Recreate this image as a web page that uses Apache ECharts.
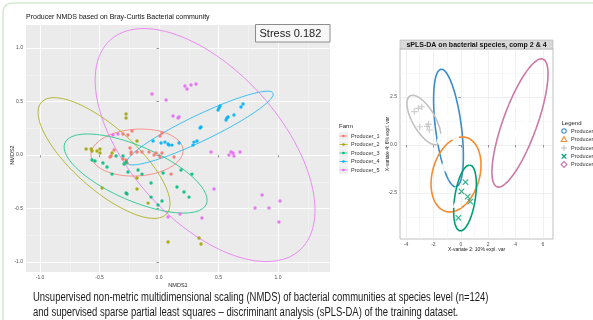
<!DOCTYPE html>
<html><head><meta charset="utf-8">
<script src="https://cdn.jsdelivr.net/npm/echarts@6/dist/echarts.min.js"></script>
<style>html,body{margin:0;padding:0;background:#fff}#c{width:593px;height:320px}</style>
</head><body><div id="c"></div>
<script>
// ---- NMDS (Bray-Curtis) site scores, [NMDS1, NMDS2] per producer ----
const producerNames = ['Producer_1', 'Producer_2', 'Producer_3', 'Producer_4', 'Producer_5'];
const nmdsProducer1 = [[-0.303,0.196],[-0.261,0.187],[-0.227,0.224],[0.008,0.178],[0.025,0.206],[-0.412,-0.019],[-0.403,-0.009],[-0.378,0.047],[-0.303,-0.037],[-0.277,-0.047],[-0.269,-0.075],[-0.235,0.028],[-0.235,0.009],[-0.185,0.028],[-0.143,0.028],[-0.084,0.028],[-0.042,0.000],[-0.025,0.019],[0.008,-0.019],[0.025,0.019],[0.126,-0.019],[0.101,-0.178],[-0.244,0.065]];
const nmdsProducer2 = [[-0.277,0.383],[-0.277,0.346],[-0.613,0.056],[-0.571,0.056],[-0.563,0.037],[-0.521,0.037],[-0.496,0.056],[-0.496,0.019],[-0.395,0.019],[-0.185,0.131],[-0.479,-0.308],[-0.185,-0.215],[-0.185,-0.318],[-0.092,-0.449],[0.076,-0.813],[0.336,-0.776],[0.353,-0.832]];
const nmdsProducer3 = [[-0.563,-0.047],[-0.538,-0.056],[-0.471,-0.075],[-0.437,-0.112],[-0.395,-0.178],[-0.361,-0.009],[-0.303,-0.009],[-0.294,-0.084],[-0.277,-0.065],[-0.261,-0.159],[-0.277,-0.355],[-0.269,-0.364],[-0.176,-0.140],[-0.143,-0.178],[-0.067,-0.262],[-0.067,-0.393],[-0.008,-0.467],[0.025,-0.430],[0.034,-0.168],[0.151,-0.299],[0.185,-0.140],[0.210,-0.346],[0.252,-0.393],[0.277,-0.178]];
const nmdsProducer4 = [[-0.050,0.131],[0.017,0.112],[0.050,0.121],[0.076,0.103],[0.084,0.093],[0.109,0.093],[0.168,0.112],[0.286,0.093],[0.294,0.121],[0.319,0.131],[0.345,0.252],[0.353,0.262],[0.496,0.421],[0.504,0.439],[0.513,0.458],[0.563,0.327],[0.580,0.355],[0.571,0.346],[0.630,0.374],[0.689,0.449],[0.706,0.477]];
const nmdsProducer5 = [[-0.059,0.570],[0.059,0.514],[0.218,0.645],[0.235,0.617],[0.269,0.654],[0.311,0.664],[0.118,0.364],[0.160,0.346],[0.168,0.355],[-0.387,0.187],[-0.345,0.196],[0.437,0.028],[0.588,0.000],[0.605,0.028],[0.622,0.019],[0.630,-0.009],[0.681,0.028],[0.462,-0.318],[0.361,-0.589],[0.076,-0.579],[0.176,-0.551],[0.866,-0.374],[0.807,-0.495],[0.924,-0.495],[1.017,-0.430],[1.008,-0.626]];
// 95% ellipses: [centreX, centreY, axis1X, axis1Y, axis2X, axis2Y]
const nmdsEllipses = [
  [-0.185, 0.023, 0.387, 0.019, 0, 0.219],
  [-0.462, -0.028, 0.527, -0.521, -0.173, -0.217],
  [-0.197, -0.173, 0.601, -0.248, 0, 0.274],
  [0.345, 0.252, 0.614, 0.327, 0.047, -0.109],
  [0.387, 0.093, 0.924, -0.607, 0, 0.904]
];
const nmdsMajorTicks = [-1.0, -0.5, 0.0, 0.5, 1.0];
const nmdsMinorX = [-0.75, -0.25, 0.25, 0.75, 1.25];
const nmdsMinorY = [-0.75, -0.25, 0.25, 0.75];
const stressLabel = 'Stress 0.182';

// ---- sPLS-DA scores, [X-variate 2, X-variate 4] per producer ----
const splsProducer1 = [[-1.28,2.40],[-1.18,2.38],[-1.06,1.42],[-1.32,0.43],[-1.48,0.21],[-0.40,0.40],[-0.47,-1.04]];
const splsProducer2 = [[1.00,-0.78],[-1.28,-1.16],[-0.47,-1.04],[-0.55,-1.58],[-0.30,-3.06]];
const splsProducer3 = [[-3.39,1.74],[-3.10,1.91],[-2.85,1.99],[-3.00,0.95],[-2.45,0.97],[-2.30,0.78],[-2.36,1.09]];
const splsProducer4 = [[0.34,-1.94],[0.05,-2.42],[0.50,-2.69],[0.69,-2.95],[-0.18,-3.80]];
const splsProducer5 = [[5.31,3.36],[3.88,2.08],[4.81,1.07],[3.94,0.57],[4.55,0.59],[2.99,-0.60]];
const splsEllipses = [
  [-0.90, 0.885, 0.547, -3.07, 0.94, 0.083],
  [-0.35, -1.536, 1.825, 0.495, 0, -1.89],
  [-2.69, 1.30, 1.02, -1.26, -0.715, -0.294],
  [0.307, -2.76, 0.365, 1.72, 0.745, -0.078],
  [4.32, 1.146, 1.68, 3.33, 1.17, -0.30]
];
const splsMajorX = [-4, -2, 0, 2, 4, 6];
const splsMinorX = [-3, -1, 1, 3, 5];
const splsMajorY = [-2.5, 0.0, 2.5];
const splsMinorY = [-3.75, -1.25, 1.25, 3.75];

const captionLines = [
  'Unsupervised non-metric multidimensional scaling (NMDS) of bacterial communities at species level (n=124)',
  'and supervised sparse partial least squares \u2013 discriminant analysis (sPLS-DA) of the training dataset.'
];

// ---- styling ----
const ggColors = ['#F8766D', '#A3A500', '#00BF7D', '#00B0F6', '#E76BF3'];
const mixoColors = ['#388ECC', '#F68B33', '#C2C2C2', '#009E73', '#CC79A7'];
const FONT = 'Liberation Sans, Arial, sans-serif';

function ellipseOutline(p) {
  const [cx, cy, ux, uy, vx, vy] = p, pts = [], n = 120;
  for (let i = 0; i <= n; i++) {
    const t = 2 * Math.PI * i / n;
    pts.push([cx + ux * Math.cos(t) + vx * Math.sin(t), cy + uy * Math.cos(t) + vy * Math.sin(t)]);
  }
  return pts;
}

const nmdsSets = [nmdsProducer1, nmdsProducer2, nmdsProducer3, nmdsProducer4, nmdsProducer5];
const splsSets = [splsProducer1, splsProducer2, splsProducer3, splsProducer4, splsProducer5];
const splsSymbols = [
  'emptyCircle', 'emptyTriangle',
  'path://M0,-10L0,10M-10,0L10,0',
  'path://M-10,-10L10,10M-10,10L10,-10',
  'emptyDiamond'
];
const splsSymbolSize = [5.5, 6.5, 6.5, 5.5, 6.5];

const series = [];
nmdsSets.forEach((d, i) => {
  series.push({
    type: 'line', xAxisIndex: 0, yAxisIndex: 0, data: ellipseOutline(nmdsEllipses[i]),
    showSymbol: false, silent: true, lineStyle: { color: ggColors[i], width: 1, opacity: 0.75 }, z: 2
  });
  series.push({
    name: producerNames[i], type: 'scatter', xAxisIndex: 0, yAxisIndex: 0, data: d,
    symbolSize: 3.4, itemStyle: { color: ggColors[i], opacity: 0.9 }, z: 3
  });
});
splsSets.forEach((d, i) => {
  series.push({
    type: 'line', xAxisIndex: 2, yAxisIndex: 2, data: ellipseOutline(splsEllipses[i]),
    showSymbol: false, silent: true, lineStyle: { color: mixoColors[i], width: 1.6 }, z: 2
  });
  series.push({
    name: producerNames[i], type: 'scatter', xAxisIndex: 2, yAxisIndex: 2, data: d,
    symbol: splsSymbols[i], symbolSize: splsSymbolSize[i],
    itemStyle: { color: (i === 2 || i === 3) ? 'none' : '#fff', borderColor: mixoColors[i], borderWidth: 1.2 }, z: 3
  });
});

function majorAxis(grid, min, max, ticks, fmt, pos, labelSize, show) {
  return {
    type: 'value', gridIndex: grid, min, max, position: pos,
    axisLine: { show: false },
    axisTick: { show: show, customValues: ticks, length: 2.5, lineStyle: { color: '#555', width: 0.6 } },
    axisLabel: { customValues: ticks, formatter: fmt, fontSize: labelSize, color: '#4d4d4d', margin: 3, fontFamily: FONT },
    splitLine: { show: true, lineStyle: { color: grid === 0 ? '#ffffff' : '#e6e6e6', width: grid === 0 ? 0.9 : 0.6 } }
  };
}
function minorAxis(grid, min, max, ticks, pos) {
  return {
    type: 'value', gridIndex: grid, min, max, position: pos,
    axisLine: { show: false }, axisLabel: { show: false },
    axisTick: { show: false, customValues: ticks },
    splitLine: { show: true, lineStyle: { color: grid === 0 ? '#f6f6f6' : '#f1f1f1', width: 0.5 } }
  };
}
const f1 = v => v.toFixed(1);
const f0 = v => String(v);

const legendGraphics = [];
producerNames.forEach((n, i) => {
  const y = 136 + i * 8.5;
  legendGraphics.push({ type: 'rect', shape: { x: 339, y: y - 4, width: 9, height: 8 }, style: { fill: '#f0f0f0' } });
  legendGraphics.push({ type: 'line', shape: { x1: 339.5, y1: y, x2: 347.5, y2: y }, style: { stroke: ggColors[i], lineWidth: 0.7 } });
  legendGraphics.push({ type: 'circle', shape: { cx: 343.5, cy: y, r: 1.3 }, style: { fill: ggColors[i] } });
  legendGraphics.push({ type: 'text', x: 351, y: y, style: { text: n, font: '5.5px ' + FONT, fill: '#333', textVerticalAlign: 'middle' } });
});
const keyY = [131, 139.5, 148, 156.3, 164.5];
const kx = 564;
legendGraphics.push({ type: 'circle', shape: { cx: kx, cy: keyY[0], r: 2.2 }, style: { fill: 'none', stroke: mixoColors[0], lineWidth: 1.1 } });
legendGraphics.push({ type: 'polygon', shape: { points: [[kx, keyY[1] - 2.8], [kx + 2.8, keyY[1] + 2], [kx - 2.8, keyY[1] + 2]] }, style: { fill: 'none', stroke: mixoColors[1], lineWidth: 1.1 } });
legendGraphics.push({ type: 'polyline', shape: { points: [[kx - 3, keyY[2]], [kx + 3, keyY[2]]] }, style: { stroke: mixoColors[2], lineWidth: 1.1 } });
legendGraphics.push({ type: 'polyline', shape: { points: [[kx, keyY[2] - 3], [kx, keyY[2] + 3]] }, style: { stroke: mixoColors[2], lineWidth: 1.1 } });
legendGraphics.push({ type: 'polyline', shape: { points: [[kx - 2.3, keyY[3] - 2.3], [kx + 2.3, keyY[3] + 2.3]] }, style: { stroke: mixoColors[3], lineWidth: 1.1 } });
legendGraphics.push({ type: 'polyline', shape: { points: [[kx - 2.3, keyY[3] + 2.3], [kx + 2.3, keyY[3] - 2.3]] }, style: { stroke: mixoColors[3], lineWidth: 1.1 } });
legendGraphics.push({ type: 'polygon', shape: { points: [[kx, keyY[4] - 3], [kx + 3, keyY[4]], [kx, keyY[4] + 3], [kx - 3, keyY[4]]] }, style: { fill: 'none', stroke: mixoColors[4], lineWidth: 1.1 } });
producerNames.forEach((n, i) => {
  legendGraphics.push({ type: 'text', x: 571, y: keyY[i], style: { text: n, font: '5.5px ' + FONT, fill: '#333', textVerticalAlign: 'middle' } });
});

const chart = echarts.init(document.getElementById('c'), null, { renderer: 'canvas' });
chart.setOption({
  animation: false,
  backgroundColor: '#ffffff',
  grid: [
    { left: 26, top: 25, width: 304, height: 247, show: true, backgroundColor: '#EBEBEB', borderWidth: 0 },
    { left: 400, top: 49, width: 153, height: 190, show: true, backgroundColor: '#ffffff', borderColor: '#b0b0b0', borderWidth: 0.8 }
  ],
  xAxis: [
    majorAxis(0, -1.118, 1.437, nmdsMajorTicks, f1, 'bottom', 5, true),
    minorAxis(0, -1.118, 1.437, nmdsMinorX, 'top'),
    majorAxis(1, -4.44, 6.73, splsMajorX, f0, 'bottom', 5, true),
    minorAxis(1, -4.44, 6.73, splsMinorX, 'top')
  ],
  yAxis: [
    majorAxis(0, -1.093, 1.215, nmdsMajorTicks, f1, 'left', 5, true),
    minorAxis(0, -1.093, 1.215, nmdsMinorY, 'right'),
    majorAxis(1, -4.9, 5.0, splsMajorY, f1, 'left', 5, true),
    minorAxis(1, -4.9, 5.0, splsMinorY, 'right')
  ],
  series,
  graphic: [
    { type: 'rect', shape: { x: 3, y: 3, width: 640, height: 360, r: 9 }, style: { fill: 'none', stroke: '#d3ead0', lineWidth: 1.6 }, z: 0 },
    { type: 'text', x: 26, y: 17, style: { text: 'Producer NMDS based on Bray-Curtis Bacterial community', font: '7px ' + FONT, fill: '#111', textVerticalAlign: 'middle' } },
    { type: 'rect', shape: { x: 255.5, y: 24.5, width: 74.5, height: 17.5 }, style: { fill: '#f7f7f7', stroke: '#8c8c8c', lineWidth: 1 }, z: 10 },
    { type: 'text', x: 259.5, y: 33.5, style: { text: stressLabel, font: '11px ' + FONT, fill: '#222', textVerticalAlign: 'middle' }, z: 11 },
    { type: 'text', x: 12, y: 155, rotation: Math.PI / 2, style: { text: 'NMDS2', font: '5.5px ' + FONT, fill: '#222', textAlign: 'center', textVerticalAlign: 'middle' } },
    { type: 'text', x: 178, y: 285, style: { text: 'NMDS1', font: '5.5px ' + FONT, fill: '#222', textAlign: 'center', textVerticalAlign: 'middle' } },
    { type: 'text', x: 339, y: 126, style: { text: 'Farm', font: '6px ' + FONT, fill: '#222', textVerticalAlign: 'middle' } },
    { type: 'rect', shape: { x: 400, y: 40, width: 153, height: 9 }, style: { fill: '#d9d9d9', stroke: '#b0b0b0', lineWidth: 0.6 } },
    { type: 'text', x: 476.5, y: 44.8, style: { text: 'sPLS-DA on bacterial species, comp 2 & 4', font: 'bold 7px ' + FONT, fill: '#111', textAlign: 'center', textVerticalAlign: 'middle' } },
    { type: 'text', x: 388, y: 144, rotation: Math.PI / 2, style: { text: 'X-variate 4: 6% expl. var', font: '5px ' + FONT, fill: '#222', textAlign: 'center', textVerticalAlign: 'middle' } },
    { type: 'text', x: 476.5, y: 249.5, style: { text: 'X-variate 2: 10% expl. var', font: '5px ' + FONT, fill: '#222', textAlign: 'center', textVerticalAlign: 'middle' } },
    { type: 'text', x: 561.5, y: 123.5, style: { text: 'Legend', font: '6px ' + FONT, fill: '#222', textVerticalAlign: 'middle' } },
    ...legendGraphics,
    { type: 'text', x: 33, y: 298, scaleX: 0.79, style: { text: captionLines[0], font: '12px ' + FONT, fill: '#1a1a1a', textVerticalAlign: 'middle' } },
    { type: 'text', x: 33, y: 312.5, scaleX: 0.79, style: { text: captionLines[1], font: '12px ' + FONT, fill: '#1a1a1a', textVerticalAlign: 'middle' } }
  ]
});
</script></body></html>
